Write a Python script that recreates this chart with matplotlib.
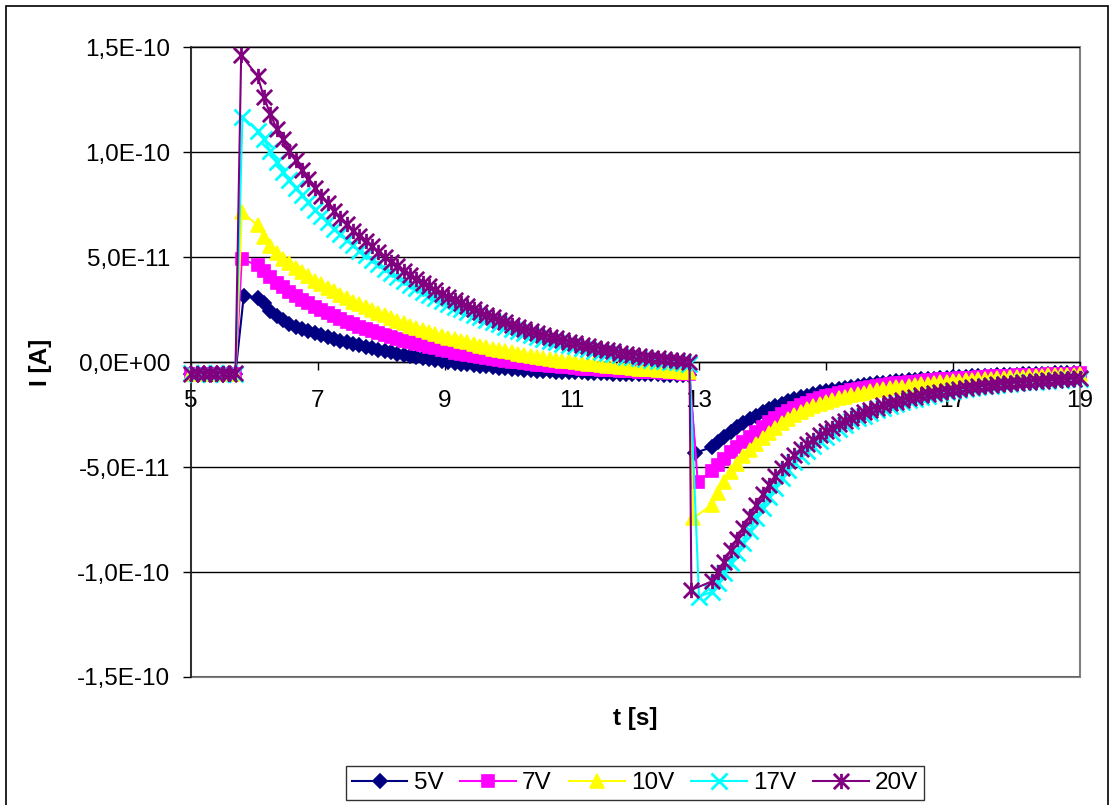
import numpy as np
import matplotlib
matplotlib.use("Agg")
import matplotlib.pyplot as plt
from matplotlib.path import Path
from matplotlib.patches import Rectangle
from matplotlib.ticker import FixedLocator, FuncFormatter

plt.rcParams['font.family'] = ['Liberation Sans', 'DejaVu Sans']

# ---------------------------------------------------------------------------
# Photocurrent transients (values in pA) for five bias voltages
# ---------------------------------------------------------------------------
LABELS = ["5V", "7V", "10V", "17V", "20V"]

# sampling clock of the recorder (s)
T_BASE = [5.0, 5.1, 5.2, 5.3, 5.4, 5.5, 5.6, 5.7]
T_DECAY_START, T_REC_START, DT = 6.05, 13.2, 0.1

# dark level before switching the light on
BASE_5V = [-5.6, -5.5, -5.6, -5.5, -5.6, -5.5, -5.6, -5.5]
BASE_7V = [-5.5, -5.6, -5.5, -5.6, -5.5, -5.6, -5.5, -5.6]
BASE_10V = [-5.7, -5.6, -5.7, -5.6, -5.7, -5.6, -5.7, -5.6]
BASE_17V = [-5.4, -5.5, -5.4, -5.5, -5.4, -5.5, -5.4, -5.5]
BASE_20V = [-5.5, -5.4, -5.5, -5.4, -5.5, -5.4, -5.5, -5.4]

# switch-on peak
PEAK_T = [5.83, 5.80, 5.80, 5.81, 5.79]
PEAK_I = [31.3, 49.0, 71.5, 116.7, 146.2]

# decay under illumination, 6.05 s ... 12.85 s
DECAY_5V = [30.5, 28.0, 24.5, 21.8, 19.8, 18.0, 16.8, 15.6, 14.6, 13.7,
            12.8, 11.9, 11.0, 10.2, 9.4, 8.6, 7.9, 7.2, 6.5, 5.8,
            5.2, 4.6, 4.0, 3.5, 2.9, 2.4, 1.9, 1.4, 0.9, 0.4,
            0.0, -0.4, -0.8, -1.1, -1.5, -1.8, -2.1, -2.4, -2.7, -3.0,
            -3.2, -3.5, -3.7, -3.9, -4.1, -4.3, -4.4, -4.6, -4.7, -4.8,
            -4.9, -5.0, -5.1, -5.2, -5.3, -5.4, -5.5, -5.6, -5.6, -5.7,
            -5.8, -5.8, -5.9, -5.9, -6.0, -6.0, -6.1, -6.1, -6.2]
DECAY_7V = [46.0, 43.5, 40.5, 37.8, 35.6, 33.5, 31.5, 29.6, 27.9, 26.2,
            24.6, 23.2, 21.8, 20.5, 19.1, 17.9, 16.7, 15.6, 14.6, 13.6,
            12.7, 11.8, 11.0, 10.2, 9.4, 8.6, 7.9, 7.2, 6.5, 5.8,
            5.1, 4.5, 3.9, 3.4, 2.9, 2.4, 1.9, 1.5, 1.0, 0.6,
            0.2, -0.2, -0.6, -0.9, -1.2, -1.6, -1.9, -2.1, -2.4, -2.6,
            -2.9, -3.1, -3.3, -3.5, -3.6, -3.8, -4.0, -4.2, -4.3, -4.5,
            -4.6, -4.8, -4.9, -5.0, -5.2, -5.3, -5.4, -5.6, -5.7]
DECAY_10V = [65.0, 59.5, 55.0, 51.8, 49.0, 47.0, 44.9, 42.9, 40.8, 38.8,
             37.0, 35.4, 33.7, 32.0, 30.3, 28.8, 27.5, 26.1, 24.8, 23.5,
             22.2, 21.0, 19.7, 18.5, 17.2, 16.0, 15.1, 14.2, 13.3, 12.5,
             11.6, 10.8, 10.0, 9.3, 8.5, 7.7, 7.0, 6.4, 5.8, 5.2,
             4.6, 4.0, 3.5, 3.0, 2.4, 1.9, 1.4, 1.0, 0.6, 0.3,
             -0.1, -0.5, -0.8, -1.1, -1.4, -1.7, -2.0, -2.3, -2.6, -2.8,
             -3.1, -3.3, -3.5, -3.7, -3.9, -4.1, -4.4, -4.6, -4.8]
DECAY_17V = [110.0, 106.0, 100.5, 95.0, 90.5, 86.5, 83.0, 79.5, 76.0, 72.5,
             69.5, 66.5, 63.5, 61.0, 58.0, 55.5, 53.0, 51.0, 48.8, 46.5,
             44.3, 42.2, 40.3, 38.5, 36.8, 35.1, 33.5, 32.0, 30.5, 29.0,
             27.5, 26.2, 25.0, 23.8, 22.6, 21.4, 20.2, 19.1, 18.0, 16.9,
             15.8, 14.8, 13.9, 13.0, 12.0, 11.1, 10.2, 9.5, 8.8, 8.1,
             7.4, 6.7, 6.0, 5.4, 4.8, 4.2, 3.6, 3.1, 2.6, 2.2,
             1.8, 1.4, 1.0, 0.7, 0.4, 0.1, -0.2, -0.5, -0.8]
DECAY_20V = [136.0, 126.0, 118.0, 111.0, 106.0, 100.5, 96.0, 91.5, 87.0, 83.0,
             79.0, 75.5, 72.0, 68.5, 65.5, 62.5, 60.0, 57.5, 55.0, 52.5,
             50.0, 47.8, 45.6, 43.5, 41.5, 39.5, 37.7, 36.0, 34.3, 32.6,
             31.0, 29.5, 28.0, 26.6, 25.2, 23.9, 22.6, 21.3, 20.1, 18.9,
             17.8, 16.7, 15.7, 14.7, 13.8, 12.9, 12.0, 11.2, 10.4, 9.6,
             8.9, 8.1, 7.4, 6.8, 6.2, 5.6, 5.0, 4.4, 3.9, 3.4,
             2.9, 2.5, 2.1, 1.8, 1.5, 1.1, 0.8, 0.5, 0.2]

# switch-off minimum
MIN_T = [12.94, 12.98, 12.91, 13.00, 12.88]
MIN_I = [-43.3, -57.0, -74.4, -111.7, -108.5]

# recovery in the dark, 13.2 s ... 19.0 s
REC_5V = [-40.5, -38.0, -35.5, -33.3, -31.0, -29.0, -27.2, -25.5, -24.0, -22.5,
          -21.1, -19.9, -18.8, -17.8, -16.9, -16.0, -15.2, -14.5, -13.9, -13.3,
          -12.7, -12.2, -11.7, -11.3, -10.9, -10.5, -10.1, -9.8, -9.5, -9.2,
          -8.9, -8.7, -8.5, -8.3, -8.1, -7.9, -7.7, -7.5, -7.3, -7.1,
          -7.0, -6.8, -6.7, -6.6, -6.5, -6.3, -6.2, -6.1, -6.0, -5.9,
          -5.8, -5.7, -5.6, -5.5, -5.4, -5.3, -5.3, -5.2, -5.1]
REC_7V = [-52.0, -49.0, -46.0, -43.0, -40.5, -38.0, -35.5, -33.3, -31.0, -28.8,
          -26.6, -24.8, -23.2, -21.8, -20.5, -19.3, -18.2, -17.2, -16.3, -15.5,
          -14.8, -14.1, -13.5, -12.9, -12.4, -11.9, -11.4, -11.0, -10.6, -10.2,
          -9.9, -9.6, -9.3, -9.0, -8.8, -8.5, -8.3, -8.1, -7.9, -7.7,
          -7.5, -7.4, -7.2, -7.1, -6.9, -6.8, -6.7, -6.5, -6.4, -6.3,
          -6.2, -6.1, -6.0, -5.9, -5.8, -5.7, -5.6, -5.5, -5.4]
REC_10V = [-68.0, -62.5, -57.0, -52.5, -48.5, -45.0, -42.0, -39.0, -36.3, -33.7,
           -31.2, -29.0, -27.0, -25.3, -23.8, -22.4, -21.1, -20.0, -19.0, -18.1,
           -17.3, -16.5, -15.8, -15.2, -14.6, -14.0, -13.5, -13.0, -12.5, -12.1,
           -11.7, -11.3, -11.0, -10.6, -10.3, -10.0, -9.7, -9.4, -9.2, -8.9,
           -8.7, -8.5, -8.3, -8.1, -7.9, -7.7, -7.5, -7.3, -7.1, -7.0,
           -6.8, -6.7, -6.5, -6.4, -6.3, -6.2, -6.1, -6.0, -5.9]
REC_17V = [-109.5, -105.0, -100.3, -95.5, -91.0, -86.0, -80.5, -74.5, -69.5, -64.5,
           -59.8, -55.3, -51.2, -47.8, -45.0, -42.3, -40.0, -37.8, -35.6, -33.6,
           -31.7, -30.0, -28.3, -26.9, -25.5, -24.2, -23.0, -21.9, -21.0, -20.1,
           -19.2, -18.3, -17.5, -16.7, -16.0, -15.4, -14.8, -14.2, -13.7, -13.2,
           -12.8, -12.4, -12.0, -11.6, -11.3, -11.0, -10.6, -10.3, -10.0, -9.7,
           -9.5, -9.3, -9.1, -8.9, -8.7, -8.5, -8.3, -8.1, -8.0]
REC_20V = [-104.5, -100.0, -95.0, -89.5, -84.3, -79.0, -73.5, -68.0, -63.0, -58.5,
           -54.3, -50.5, -47.0, -44.2, -41.6, -39.2, -37.0, -35.0, -33.0, -31.3,
           -29.6, -28.1, -26.6, -25.2, -24.0, -22.8, -21.7, -20.7, -19.7, -18.9,
           -18.1, -17.3, -16.6, -15.9, -15.3, -14.7, -14.2, -13.7, -13.2, -12.7,
           -12.3, -11.9, -11.6, -11.3, -11.0, -10.7, -10.4, -10.1, -9.8, -9.5,
           -9.3, -9.1, -8.9, -8.7, -8.5, -8.3, -8.1, -7.9, -7.8]

BASES = [BASE_5V, BASE_7V, BASE_10V, BASE_17V, BASE_20V]
DECAYS = [DECAY_5V, DECAY_7V, DECAY_10V, DECAY_17V, DECAY_20V]
RECS = [REC_5V, REC_7V, REC_10V, REC_17V, REC_20V]

X_TICKS = [5, 7, 9, 11, 13, 15, 17, 19]
Y_TICKS = [-1.5e-10, -1.0e-10, -5.0e-11, 0.0, 5.0e-11, 1.0e-10, 1.5e-10]

# ---------------------------------------------------------------------------
# styling (Excel-like)
# ---------------------------------------------------------------------------
COLORS = ["#000080", "#FF00FF", "#FFFF00", "#00FFFF", "#800080"]
STAR = Path([(-1, -1), (1, 1), (-1, 1), (1, -1), (0, -1), (0, 1)],
            [Path.MOVETO, Path.LINETO] * 3)
MARKERS = [dict(marker='D', ms=7.2, mew=1.2),
           dict(marker='s', ms=9.0, mew=1.2),
           dict(marker='^', ms=10.6, mew=1.2),
           dict(marker='x', ms=11.0, mew=2.0),
           dict(marker=STAR, ms=11.0, mew=2.0)]
FS = 17.5

W, H = 1114, 805
fig = plt.figure(figsize=(W / 100, H / 100), dpi=100)
fig.patch.set_facecolor('white')

# outer chart border
fig.add_artist(Rectangle((6 / W, -0.02), (1108 - 6) / W, 1 - 6 / H + 0.02,
                         transform=fig.transFigure, fill=False,
                         edgecolor='black', lw=1.2))

ax = fig.add_axes([191 / W, 1 - 677 / H, (1080 - 191) / W, (677 - 47) / H])

handles = []
for i, lab in enumerate(LABELS):
    t_dec = T_DECAY_START + DT * np.arange(len(DECAYS[i]))
    t_rec = T_REC_START + DT * np.arange(len(RECS[i]))
    t = np.concatenate([T_BASE, [PEAK_T[i]], t_dec, [MIN_T[i]], t_rec])
    v = np.concatenate([BASES[i], [PEAK_I[i]], DECAYS[i], [MIN_I[i]], RECS[i]]) * 1e-12
    ln, = ax.plot(t, v, color=COLORS[i], lw=1.5, mfc=COLORS[i], mec=COLORS[i],
                  clip_on=False, zorder=3 + i, **MARKERS[i])
    handles.append(ln)

ax.set_xlim(5, 19)
ax.set_ylim(-1.5e-10, 1.5e-10)

ax.xaxis.set_major_locator(FixedLocator(X_TICKS))
ax.xaxis.set_major_formatter(FuncFormatter(lambda x, p: f"{x:g}"))
ax.yaxis.set_major_locator(FixedLocator(Y_TICKS))
ax.yaxis.set_major_formatter(
    FuncFormatter(lambda y, p: f"{y:.1E}".replace('.', ',')))

ax.yaxis.grid(True, color='black', lw=1.0)
ax.set_axisbelow(True)

for s in ('top', 'right'):
    ax.spines[s].set_visible(False)
ax.spines['bottom'].set_position(('data', 0))
ax.spines['bottom'].set_color('black')
ax.spines['bottom'].set_linewidth(1.0)
ax.spines['left'].set_color('#202020')
ax.spines['left'].set_linewidth(1.2)
ax.add_patch(Rectangle((0, 0), 1, 1, transform=ax.transAxes, fill=False,
                       edgecolor='#808080', lw=1.5, zorder=0.5, clip_on=False))

ax.tick_params(axis='x', direction='out', length=6, width=1, pad=14,
               labelsize=FS, colors='black')
ax.tick_params(axis='y', direction='out', length=6, width=1, pad=9,
               labelsize=FS, colors='black')

fig.text(635.5 / W, 1 - 718 / H, "t [s]", ha='center', va='center',
         fontsize=FS, fontweight='bold')
fig.text(40 / W, 1 - 362 / H, "I [A]", ha='center', va='center',
         rotation=90, fontsize=FS, fontweight='bold')

leg = fig.legend(handles, LABELS, loc='center',
                 bbox_to_anchor=(635 / W, 1 - 783 / H), ncol=5,
                 frameon=True, fancybox=False, shadow=False,
                 fontsize=FS, handlelength=2.3, handletextpad=0.25,
                 columnspacing=0.7, borderpad=0.25, borderaxespad=0,
                 numpoints=1)
leg.get_frame().set_edgecolor('black')
leg.get_frame().set_linewidth(1.0)

fig.savefig("out.png", dpi=100, facecolor='white')
